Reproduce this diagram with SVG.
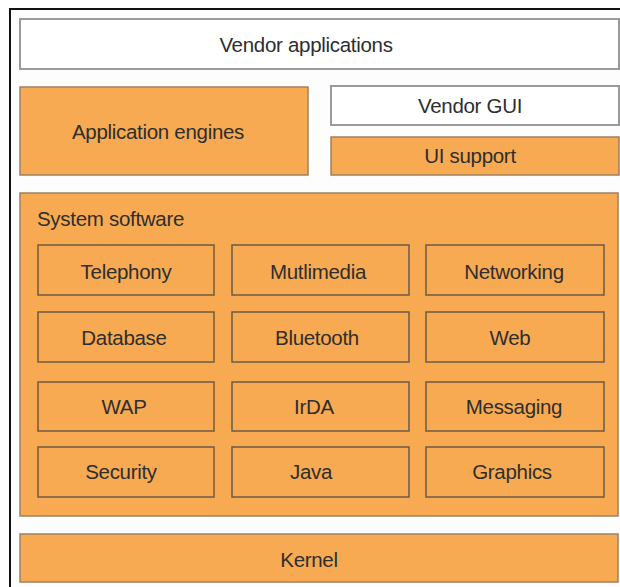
<svg xmlns="http://www.w3.org/2000/svg" width="620" height="587" viewBox="0 0 620 587">
<style>
.frame{fill:#fdfdfd;stroke:#111;stroke-width:2}
.wbox{fill:#ffffff;stroke:#9a9a9a;stroke-width:2}
.obox{fill:#f7aa52;stroke:#a08060;stroke-width:1.5}
.ibox{fill:#f7aa52;stroke:#6e5a44;stroke-width:1.5}
text{font-family:"Liberation Sans",Arial,sans-serif;font-size:20.5px;fill:#2e2e2e;letter-spacing:-0.3px}
.c{text-anchor:middle}
</style>
<rect class="frame" x="10" y="9" width="620" height="590"/>
<g id="vendor-applications"><rect class="wbox" x="20" y="19" width="599" height="50"/><text class="c" x="306" y="52">Vendor applications</text></g>
<g id="application-engines"><rect class="obox" x="20" y="87" width="288" height="88"/><text class="c" x="158" y="139">Application engines</text></g>
<g id="vendor-gui"><rect class="wbox" x="331" y="86" width="288" height="39"/><text class="c" x="470" y="113">Vendor GUI</text></g>
<g id="ui-support"><rect class="obox" x="331" y="137" width="288" height="38"/><text class="c" x="470" y="163">UI support</text></g>
<g id="system-software"><rect class="obox" x="20" y="193" width="598" height="323"/><text x="37" y="226">System software</text></g>
<g id="telephony"><rect class="ibox" x="38" y="245" width="176" height="50"/><text class="c" x="126" y="279">Telephony</text></g>
<g id="multimedia"><rect class="ibox" x="232" y="245" width="177" height="50"/><text class="c" x="318" y="279">Mutlimedia</text></g>
<g id="networking"><rect class="ibox" x="426" y="245" width="178" height="50"/><text class="c" x="514" y="279">Networking</text></g>
<g id="database"><rect class="ibox" x="38" y="312" width="176" height="50"/><text class="c" x="124" y="345">Database</text></g>
<g id="bluetooth"><rect class="ibox" x="232" y="312" width="177" height="50"/><text class="c" x="317" y="345">Bluetooth</text></g>
<g id="web"><rect class="ibox" x="426" y="312" width="178" height="50"/><text class="c" x="510" y="345">Web</text></g>
<g id="wap"><rect class="ibox" x="38" y="382" width="176" height="49"/><text class="c" x="124" y="414">WAP</text></g>
<g id="irda"><rect class="ibox" x="232" y="382" width="177" height="49"/><text class="c" x="314" y="414">IrDA</text></g>
<g id="messaging"><rect class="ibox" x="426" y="382" width="178" height="49"/><text class="c" x="514" y="414">Messaging</text></g>
<g id="security"><rect class="ibox" x="38" y="447" width="176" height="50"/><text class="c" x="121" y="479">Security</text></g>
<g id="java"><rect class="ibox" x="232" y="447" width="177" height="50"/><text class="c" x="311" y="479">Java</text></g>
<g id="graphics"><rect class="ibox" x="426" y="447" width="178" height="50"/><text class="c" x="512" y="479">Graphics</text></g>
<g id="kernel"><rect class="obox" x="20" y="534" width="598" height="48"/><text class="c" x="309" y="567">Kernel</text></g>
<g id="connectors"></g>
</svg>
